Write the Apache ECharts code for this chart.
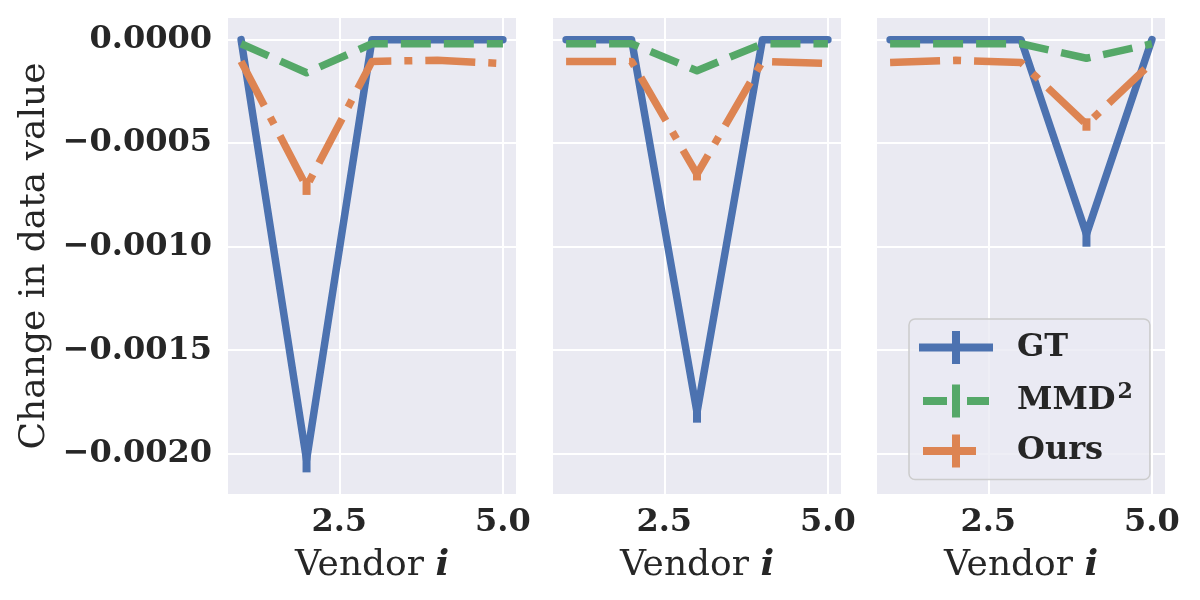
<!DOCTYPE html>
<html>
<head>
<meta charset="utf-8">
<script src="https://cdn.jsdelivr.net/npm/echarts@6/dist/echarts.min.js"></script>
<style>
  html, body { margin: 0; padding: 0; background: #ffffff; }
  #chart { width: 1200px; height: 600px; }
</style>
</head>
<body>
<div id="chart"></div>
<script>
// vendor index on the x axis
var vendors = [1, 2, 3, 4, 5];

// one array per panel and method
var gt1 = [0, -0.00203, 0, 0, 0];
var mmd1 = [-0.00002, -0.00016, -0.00002, -0.00002, -0.00002];
var ours1 = [-0.000105, -0.00071, -0.000105, -0.0001, -0.000115];

var gt2 = [0, 0, -0.0018, 0, 0];
var mmd2 = [-0.00002, -0.00002, -0.00015, -0.00002, -0.00002];
var ours2 = [-0.000105, -0.000105, -0.00065, -0.000105, -0.000115];

var gt3 = [0, 0, 0, -0.00094, 0];
var mmd3 = [-0.00002, -0.00002, -0.00002, -0.00009, -0.00002];
var ours3 = [-0.00011, -0.0001, -0.00011, -0.00041, -0.00011];

// error bar half-lengths
var gtErr1 = [0, 0.00006, 0, 0, 0];
var oursErr1 = [0, 0.00004, 0, 0, 0];
var gtErr2 = [0, 0, 0.00005, 0, 0];
var oursErr2 = [0, 0, 0.00003, 0, 0];
var gtErr3 = [0, 0, 0, 0.00006, 0];
var oursErr3 = [0, 0, 0, 0.00003, 0];

var yTicks = [0, -0.0005, -0.001, -0.0015, -0.002];
var xTicks = [2.5, 5.0];

var colors = { gt: '#4C72B0', mmd: '#55A868', ours: '#DD8452' };
var serif = 'DejaVu Serif';

function pairs(vals) {
    return vals.map(function (v, i) { return [vendors[i], v]; });
}

function fmtY(v) {
    if (Math.abs(v) < 1e-12) return '0.0000';
    return (v < 0 ? '\u2212' : '') + Math.abs(v).toFixed(4);
}

var panels = [
    { gt: gt1, mmd: mmd1, ours: ours1, gtErr: gtErr1, oursErr: oursErr1 },
    { gt: gt2, mmd: mmd2, ours: ours2, gtErr: gtErr2, oursErr: oursErr2 },
    { gt: gt3, mmd: mmd3, ours: ours3, gtErr: gtErr3, oursErr: oursErr3 }
];
var gridLefts = [228, 553, 877];

var grids = [], xAxes = [], yAxes = [], series = [];

panels.forEach(function (p, k) {
    grids.push({
        left: gridLefts[k], top: 18, width: 288, height: 476,
        show: true, backgroundColor: '#EAEAF2', borderWidth: 0
    });
    xAxes.push({
        gridIndex: k, type: 'value', min: 0.8, max: 5.2,
        axisLine: { show: false },
        axisTick: { show: false, customValues: xTicks },
        axisLabel: {
            customValues: xTicks, margin: 13,
            formatter: function (v) { return v.toFixed(1); },
            fontFamily: serif, fontWeight: 'bold', fontSize: 32, color: '#262626'
        },
        splitLine: { show: true, lineStyle: { color: '#ffffff', width: 2 } },
        name: '{a|Vendor }{b|i}',
        nameLocation: 'middle', nameGap: 54,
        nameTextStyle: {
            rich: {
                a: { fontFamily: serif, fontSize: 36, color: '#262626' },
                b: { fontFamily: serif, fontSize: 36, fontWeight: 'bold', fontStyle: 'italic', color: '#262626' }
            }
        }
    });
    yAxes.push({
        gridIndex: k, type: 'value', min: -0.0021945, max: 0.0001045,
        axisLine: { show: false },
        axisTick: { show: false, customValues: yTicks },
        axisLabel: {
            show: k === 0, customValues: yTicks, margin: 16,
            formatter: fmtY,
            fontFamily: serif, fontWeight: 'bold', fontSize: 32, color: '#262626'
        },
        splitLine: { show: true, lineStyle: { color: '#ffffff', width: 2 } },
        name: k === 0 ? 'Change in data value' : '',
        nameLocation: 'middle', nameRotate: 90, nameGap: 175,
        nameTextStyle: { fontFamily: serif, fontSize: 36, color: '#262626' }
    });

    // vertical error bars
    [[p.gt, p.gtErr, colors.gt], [p.ours, p.oursErr, colors.ours]].forEach(function (e) {
        var vals = e[0], errs = e[1], col = e[2];
        series.push({
            type: 'custom', xAxisIndex: k, yAxisIndex: k, z: 1, silent: true,
            data: vals.map(function (v, i) { return [vendors[i], v - errs[i], v + errs[i]]; }),
            renderItem: function (params, api) {
                var lo = api.coord([api.value(0), api.value(1)]);
                var hi = api.coord([api.value(0), api.value(2)]);
                if (Math.abs(lo[1] - hi[1]) < 0.5) return null;
                return {
                    type: 'rect',
                    shape: { x: lo[0] - 4, y: hi[1], width: 8, height: lo[1] - hi[1] },
                    style: { fill: col }
                };
            }
        });
    });

    series.push({
        name: 'GT', type: 'line', xAxisIndex: k, yAxisIndex: k, z: 2,
        data: pairs(p.gt), symbol: 'none', silent: true,
        lineStyle: { color: colors.gt, width: 7.5, cap: 'round', join: 'round' },
        itemStyle: { color: colors.gt }
    });
    series.push({
        name: 'Ours', type: 'line', xAxisIndex: k, yAxisIndex: k, z: 3,
        data: pairs(p.ours), symbol: 'none', silent: true,
        lineStyle: { color: colors.ours, width: 7.5, type: [50, 13, 8, 13], cap: 'butt', join: 'round' },
        itemStyle: { color: colors.ours }
    });
    series.push({
        name: 'MMD2', type: 'line', xAxisIndex: k, yAxisIndex: k, z: 4,
        data: pairs(p.mmd), symbol: 'none', silent: true,
        lineStyle: { color: colors.mmd, width: 7.5, type: [30, 13], cap: 'butt', join: 'round' },
        itemStyle: { color: colors.mmd }
    });
});

// legend handles: line with a vertical error bar through it, in a 74x33 box
var iconGT = 'path://M0,12.5L74,12.5L74,20.5L0,20.5Z M33,0L41,0L41,33L33,33Z';
var iconMMD = 'path://M0,16L0,16Z M74,16L74,16Z M4,12.5L28,12.5L28,20.5L4,20.5Z M33,0L41,0L41,33L33,33Z M48,12.5L70,12.5L70,20.5L48,20.5Z';
var iconOurs = 'path://M0,16L0,16Z M74,16L74,16Z M4,12.5L57,12.5L57,20.5L4,20.5Z M33,0L41,0L41,33L33,33Z';

var chart = echarts.init(document.getElementById('chart'), null, { renderer: 'canvas' });
chart.setOption({
    animation: false,
    backgroundColor: '#ffffff',
    grid: grids,
    xAxis: xAxes,
    yAxis: yAxes,
    legend: {
        orient: 'vertical', left: 909, top: 319,
        padding: [12, 17, 12, 10], itemGap: 17,
        itemWidth: 74, itemHeight: 33,
        backgroundColor: 'rgba(234,234,242,0.8)',
        borderColor: '#cccccc', borderWidth: 1.5, borderRadius: 6,
        selectedMode: false,
        formatter: function (name) {
            return name === 'MMD2' ? '{t|MMD}{s|2}' : '{t|' + name + '}';
        },
        textStyle: {
            padding: [0, 0, 0, 19],
            rich: {
                t: { fontFamily: serif, fontWeight: 'bold', fontSize: 32, color: '#262626', height: 40 },
                s: { fontFamily: serif, fontWeight: 'bold', fontSize: 22, color: '#262626', height: 40, padding: [0, 0, 18, 2] }
            }
        },
        data: [
            { name: 'GT', icon: iconGT, itemStyle: { color: colors.gt } },
            { name: 'MMD2', icon: iconMMD, itemStyle: { color: colors.mmd } },
            { name: 'Ours', icon: iconOurs, itemStyle: { color: colors.ours } }
        ]
    },
    series: series
});
</script>
</body>
</html>
